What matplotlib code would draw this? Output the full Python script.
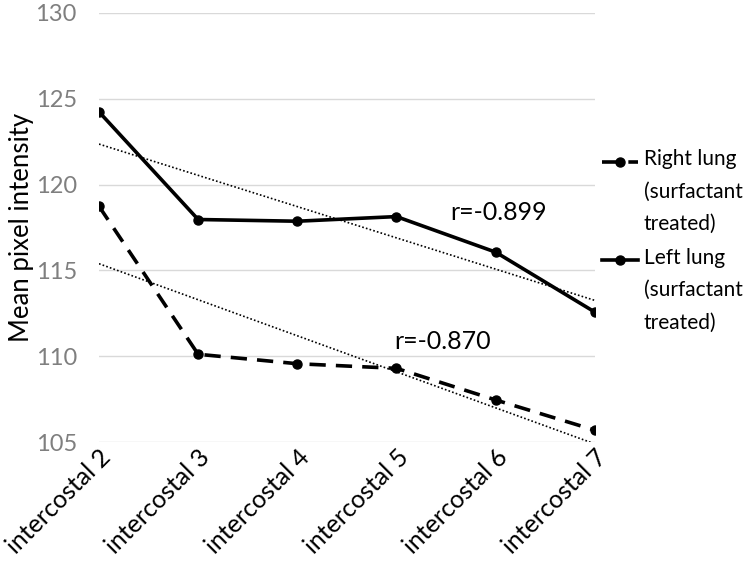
import numpy as np
import matplotlib.pyplot as plt
from matplotlib.legend_handler import HandlerLine2D
from matplotlib.transforms import ScaledTranslation

plt.rcParams['font.family'] = ['Lato', 'DejaVu Sans']

categories = ["intercostal 2", "intercostal 3", "intercostal 4",
              "intercostal 5", "intercostal 6", "intercostal 7"]
right_lung = [118.74, 110.12, 109.57, 109.30, 107.46, 105.70]
left_lung = [124.24, 117.97, 117.87, 118.14, 116.07, 112.58]
r_right = "r=-0.870"
r_left = "r=-0.899"


class TopLineHandler(HandlerLine2D):
    # put the legend sample next to the first line of a multi-line label
    def __init__(self, shift, **kw):
        super().__init__(**kw)
        self.shift = shift

    def create_artists(self, *args, **kw):
        arts = super().create_artists(*args, **kw)
        for a in arts:
            a.set_ydata(np.asarray(a.get_ydata()) + self.shift)
        return arts


x = np.arange(len(categories))

fig = plt.figure(figsize=(7.5, 5.64), dpi=100)
ax = fig.add_axes([0.132, 0.216, 0.661, 0.761])

ax.plot(x, right_lung, color='black', lw=2.6, ls=(0, (4.5, 2.8)),
        marker='o', ms=6.5, label="Right lung\n(surfactant\ntreated)", zorder=3)
ax.plot(x, left_lung, color='black', lw=2.6, ls='-',
        marker='o', ms=6.5, label="Left lung\n(surfactant\ntreated)", zorder=3)

# linear trendlines
for vals in (right_lung, left_lung):
    k, b = np.polyfit(x, vals, 1)
    ax.plot(x, k * x + b, color='black', lw=1.2, ls=(0, (1, 1.3)), zorder=2)

ax.text(4.03, 118.37, r_left, fontsize=18, ha='center', va='center')
ax.text(3.47, 110.87, r_right, fontsize=18, ha='center', va='center')

ax.set_xlim(0, len(categories) - 1)
ax.set_ylim(105, 130)
ax.set_yticks(range(105, 131, 5))
ax.set_xticks(x)
ax.set_xticklabels(categories, rotation=45, ha='right', rotation_mode='anchor',
                   fontsize=18)
off = ScaledTranslation(2 / 72, -3 / 72, fig.dpi_scale_trans)
for lbl in ax.get_xticklabels():
    lbl.set_transform(lbl.get_transform() + off)
ax.tick_params(axis='y', colors='#7f7f7f', labelsize=17, length=0, pad=16)
ax.tick_params(axis='x', length=0, pad=2)
ax.grid(axis='y', color='#d9d9d9', lw=1)
ax.set_axisbelow(True)
for s in ax.spines.values():
    s.set_visible(False)
ax.set_ylabel("Mean pixel intensity", fontsize=18.5, labelpad=1)

hm = TopLineHandler(shift=22)
leg = fig.legend(loc='upper left', bbox_to_anchor=(602 / 750, 1 - 149 / 564),
                 frameon=False, fontsize=15, handlelength=1.75,
                 handletextpad=0.25, labelspacing=0.65, borderpad=0,
                 borderaxespad=0,
                 handler_map={ax.lines[0]: hm, ax.lines[1]: hm})
for t in leg.get_texts():
    t.set_linespacing(1.78)

fig.savefig("out.png", dpi=100)
